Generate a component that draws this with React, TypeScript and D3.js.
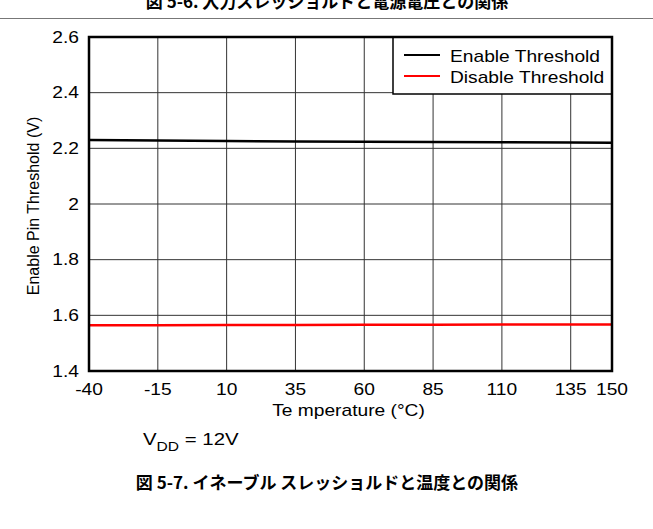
import { FC, ReactNode } from "react";
import * as d3 from "d3";

const WIDTH = 653, HEIGHT = 529;
const MARGIN = { top: 37, right: 41, bottom: 158, left: 89 };

const temps = [-40, -15, 10, 35, 60, 85, 110, 135, 150];
const enableV = [2.23, 2.228, 2.226, 2.225, 2.224, 2.223, 2.222, 2.221, 2.22];
const disableV = [1.564, 1.564, 1.565, 1.565, 1.566, 1.566, 1.567, 1.567, 1.567];
const xTicks = [-40, -15, 10, 35, 60, 85, 110, 135, 150];
const yTicks = [1.4, 1.6, 1.8, 2, 2.2, 2.4, 2.6];

const series = [
  { name: "Enable Threshold", values: enableV, color: "#000000" },
  { name: "Disable Threshold", values: disableV, color: "#ff0000" },
];

const FONT = "Arial, 'Liberation Sans', sans-serif";
const CJK = "'Noto Sans CJK JP', sans-serif";
const STRETCH = 1.2; // the plot image is stretched sideways

// horizontally stretched label, like the text in the original plot
const SText: FC<{ x: number; y: number; anchor?: string; size?: number; children: ReactNode }> = ({
  x, y, anchor = "start", size = 16, children,
}) => (
  <text
    transform={`translate(${x},${y}) scale(${STRETCH},1)`}
    textAnchor={anchor}
    fontFamily={FONT}
    fontSize={size}
  >
    {children}
  </text>
);

const App: FC = () => {
  const boundsWidth = WIDTH - MARGIN.left - MARGIN.right;
  const boundsHeight = HEIGHT - MARGIN.top - MARGIN.bottom;

  const xScale = d3.scaleLinear().domain([-40, 150]).range([0, boundsWidth]);
  const yScale = d3.scaleLinear().domain([1.4, 2.6]).range([boundsHeight, 0]);

  const line = d3
    .line<number>()
    .x((_, i) => xScale(temps[i]))
    .y((d) => yScale(d));

  const legendX = boundsWidth - 219;

  return (
    <svg
      width={WIDTH}
      height={HEIGHT}
      style={{ position: "absolute", left: 0, top: 0, background: "#fff" }}
    >
      {/* cut-off title of the previous figure */}
      <text x={327} y={8} textAnchor="middle" fontFamily={CJK} fontWeight="bold" fontSize={17}>
        図 5-6. 入力スレッショルドと電源電圧との関係
      </text>
      <line x1={0} x2={WIDTH} y1={18.5} y2={18.5} stroke="#777" strokeWidth={1} />

      <g transform={`translate(${MARGIN.left},${MARGIN.top})`}>
        {xTicks.map((t, i) => (
          <line key={"gx" + i} x1={xScale(t)} x2={xScale(t)} y1={0} y2={boundsHeight} stroke="#333" strokeWidth={1} />
        ))}
        {yTicks.map((t, i) => (
          <line key={"gy" + i} x1={0} x2={boundsWidth} y1={yScale(t)} y2={yScale(t)} stroke="#333" strokeWidth={1} />
        ))}

        {series.map((s) => (
          <path key={s.name} d={line(s.values) || ""} fill="none" stroke={s.color} strokeWidth={2.5} />
        ))}

        {/* legend */}
        <rect x={legendX} y={0} width={219} height={57} fill="#fff" stroke="#000" strokeWidth={1.5} />
        {series.map((s, i) => (
          <g key={"lg" + i}>
            <line x1={legendX + 11} x2={legendX + 47} y1={18 + i * 21} y2={18 + i * 21} stroke={s.color} strokeWidth={2} />
            <SText x={legendX + 57} y={24.5 + i * 21}>{s.name}</SText>
          </g>
        ))}

        <rect x={0} y={0} width={boundsWidth} height={boundsHeight} fill="none" stroke="#000" strokeWidth={2.5} />

        {xTicks.map((t, i) => (
          <SText key={"tx" + i} x={xScale(t)} y={boundsHeight + 24} anchor="middle">
            {t}
          </SText>
        ))}
        {yTicks.map((t, i) => (
          <SText key={"ty" + i} x={-10} y={yScale(t) + 5.5} anchor="end">
            {t}
          </SText>
        ))}

        <SText x={boundsWidth / 2 - 2} y={boundsHeight + 45} anchor="middle">
          Te mperature (°C)
        </SText>
        <text
          transform={`translate(${-50},${boundsHeight / 2 + 2}) rotate(-90)`}
          textAnchor="middle"
          fontFamily={FONT}
          fontSize={16}
        >
          Enable Pin Threshold (V)
        </text>
      </g>

      <text transform={`translate(143,445) scale(${STRETCH},1)`} fontFamily={FONT} fontSize={17}>
        V<tspan fontSize={13} dy={6}>DD</tspan>
        <tspan dy={-6}> = 12V</tspan>
      </text>

      <text x={327} y={489} textAnchor="middle" fontFamily={CJK} fontWeight="bold" fontSize={17}>
        図 5-7. イネーブル スレッショルドと温度との関係
      </text>
    </svg>
  );
};

export default App;
